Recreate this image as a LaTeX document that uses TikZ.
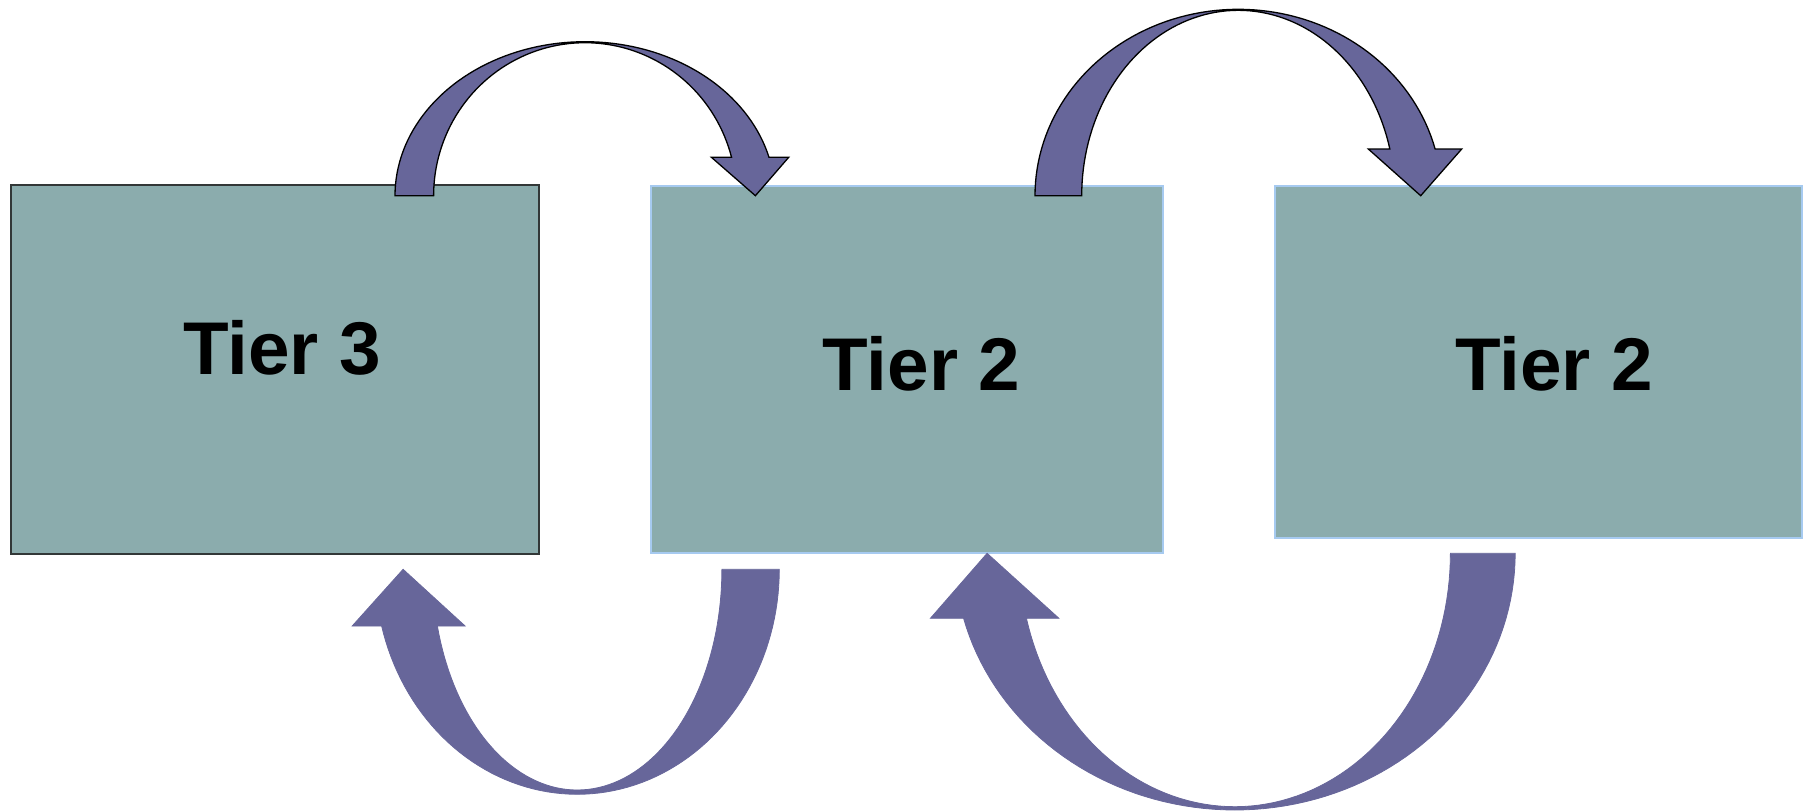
\documentclass[tikz,border=0pt]{standalone}
\usepackage{fontspec}
\setmainfont{Liberation Sans}
\definecolor{boxfill}{RGB}{139,172,173}
\definecolor{arrowfill}{RGB}{103,102,154}
\definecolor{tierblue}{RGB}{166,202,240}
\definecolor{tierdark}{RGB}{50,55,55}
\tikzset{
  tierbox/.style={rectangle, fill=boxfill, inner sep=0pt, outer sep=0pt, anchor=north west, line width=2pt},
  tierlabel/.style={anchor=base, inner sep=0pt, font=\fontsize{74.7}{80}\selectfont\bfseries},
  toparrow/.style={fill=arrowfill, draw=black, line width=1.3pt, line join=miter},
  botarrow/.style={fill=arrowfill, draw=arrowfill, line width=0.8pt, line join=miter},
}
\begin{document}
\begin{tikzpicture}[x=1pt,y=-1pt]
\useasboundingbox (0,0) rectangle (1810,811);
% boxes
\node[tierbox, draw=tierdark, minimum width=528.3pt, minimum height=369pt] (t3) at (10.7,185) {};
\node[tierbox, draw=tierblue, minimum width=512pt, minimum height=367.3pt] (t2a) at (650.7,185.7) {};
\node[tierbox, draw=tierblue, minimum width=527.3pt, minimum height=352pt] (t2b) at (1275,185.7) {};
% labels
\node[tierlabel] (l3) at (282,374) {Tier 3};
\node[tierlabel] (l2a) at (921.5,390) {Tier 2};
\node[tierlabel] (l2b) at (1554,390) {Tier 2};
% arrow 1: Tier 3 -> Tier 2 (top)
\path[toparrow]
  plot[domain=180:345.56, samples=80, variable=\t] ({585+190*cos(\t)},{195.7+154*sin(\t)})
  -- (788.7,157.3) -- (755.4,195.7) -- (711.4,157.3)
  -- plot[domain=345.46:180, samples=80, variable=\t] ({585+151.4*cos(\t)},{195.7+153*sin(\t)})
  -- cycle;
% arrow 2: Tier 2 -> Tier 2 (top)
\path[toparrow]
  plot[domain=180:345.49, samples=80, variable=\t] ({1238.3+203.3*cos(\t)},{195.7+186.4*sin(\t)})
  -- (1461.7,149) -- (1420.7,195.7) -- (1368.3,149)
  -- plot[domain=345.41:180, samples=80, variable=\t] ({1238.3+156.6*cos(\t)},{195.7+185.4*sin(\t)})
  -- cycle;
% arrow 3: Tier 2 -> Tier 3 (bottom)
\path[botarrow]
  plot[domain=0:165.4, samples=80, variable=\t] ({577.2+202.1*cos(\t)},{569.3+225*sin(\t)})
  -- (352.2,626) -- (403.1,569.3) -- (465.1,626)
  -- plot[domain=165.11:0, samples=80, variable=\t] ({577.2+144.7*cos(\t)},{569.3+220.7*sin(\t)})
  -- cycle;
% arrow 4: Tier 2 -> Tier 2 (bottom)
\path[botarrow]
  plot[domain=0:165.33, samples=80, variable=\t] ({1234.8+280.4*cos(\t)},{553.3+256.7*sin(\t)})
  -- (930.4,618.3) -- (987.1,553.3) -- (1058.9,618.3)
  -- plot[domain=165.14:0, samples=80, variable=\t] ({1234.8+215.6*cos(\t)},{553.3+253.4*sin(\t)})
  -- cycle;
\end{tikzpicture}
\end{document}
